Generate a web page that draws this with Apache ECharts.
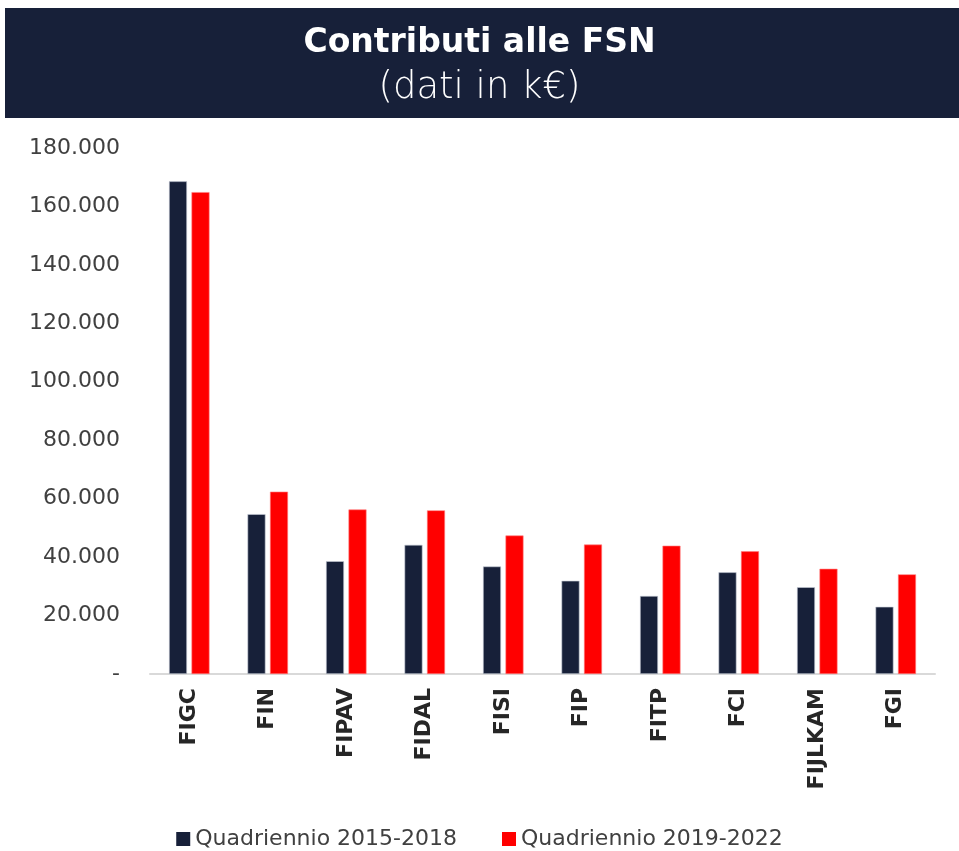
<!DOCTYPE html>
<html>
<head>
<meta charset="utf-8">
<script src="https://cdn.jsdelivr.net/npm/echarts@6/dist/echarts.min.js"></script>
<style>
  html, body { margin: 0; padding: 0; background: #fff; }
  #chart { width: 959px; height: 851px; }
</style>
</head>
<body>
<div id="chart"></div>
<script>
const federations = ['FIGC', 'FIN', 'FIPAV', 'FIDAL', 'FISI', 'FIP', 'FITP', 'FCI', 'FIJLKAM', 'FGI']
const quad2015 = [168600, 54700, 38600, 44200, 36800, 31900, 26700, 34800, 29700, 23000]
const quad2019 = [164900, 62400, 56300, 56000, 47400, 44300, 43900, 42000, 36000, 34100]
const seriesNames = ['Quadriennio 2015-2018', 'Quadriennio 2019-2022']

const bodyFont = '"DejaVu Sans", "Open Sans", sans-serif'

const formatK = v => v === 0 ? '-' : v.toLocaleString('de-DE')

const chart = echarts.init(document.getElementById('chart'))

const option = {
  animation: false,
  textStyle: { fontFamily: bodyFont },
  graphic: [
    {
      type: 'rect',
      shape: { x: 5, y: 8, width: 954, height: 110 },
      style: { fill: '#172039' },
      z: -1
    }
  ],
  title: {
    text: 'Contributi alle FSN',
    subtext: '(dati in k€)',
    left: 'center',
    top: 22,
    itemGap: 10,
    textStyle: {
      color: '#fff',
      fontSize: 33,
      fontWeight: 'bold',
      fontFamily: bodyFont
    },
    subtextStyle: {
      color: '#fff',
      fontSize: 37,
      fontWeight: 200,
      fontFamily: bodyFont
    }
  },
  legend: {
    data: seriesNames,
    bottom: -4,
    left: 'center',
    icon: 'rect',
    itemWidth: 14,
    itemHeight: 14,
    itemGap: 45,
    itemStyle: { borderWidth: 0 },
    textStyle: { color: '#404040', fontSize: 22, fontFamily: bodyFont }
  },
  grid: {
    left: 150,
    right: 24,
    top: 148,
    bottom: 177
  },
  xAxis: {
    type: 'category',
    data: federations,
    axisLine: { lineStyle: { color: '#d9d9d9', width: 2 } },
    axisTick: { show: false },
    axisLabel: {
      rotate: 90,
      margin: 14,
      color: '#262626',
      fontSize: 22,
      fontWeight: 'bold',
      fontFamily: bodyFont
    }
  },
  yAxis: {
    type: 'value',
    min: 0,
    max: 180000,
    interval: 20000,
    splitLine: { show: false },
    axisLine: { show: false },
    axisTick: { show: false },
    axisLabel: {
      formatter: formatK,
      margin: 30,
      color: '#404040',
      fontSize: 22,
      fontFamily: bodyFont
    }
  },
  series: [
    {
      name: seriesNames[0],
      type: 'bar',
      data: quad2015,
      barWidth: 18,
      barGap: '25%',
      itemStyle: { color: '#172039', borderColor: '#c8ccd6', borderWidth: 0.6 }
    },
    {
      name: seriesNames[1],
      type: 'bar',
      data: quad2019,
      barWidth: 18,
      itemStyle: { color: '#ff0000', borderColor: '#ff8080', borderWidth: 0.6 }
    }
  ]
}

chart.setOption(option)
</script>
</body>
</html>
